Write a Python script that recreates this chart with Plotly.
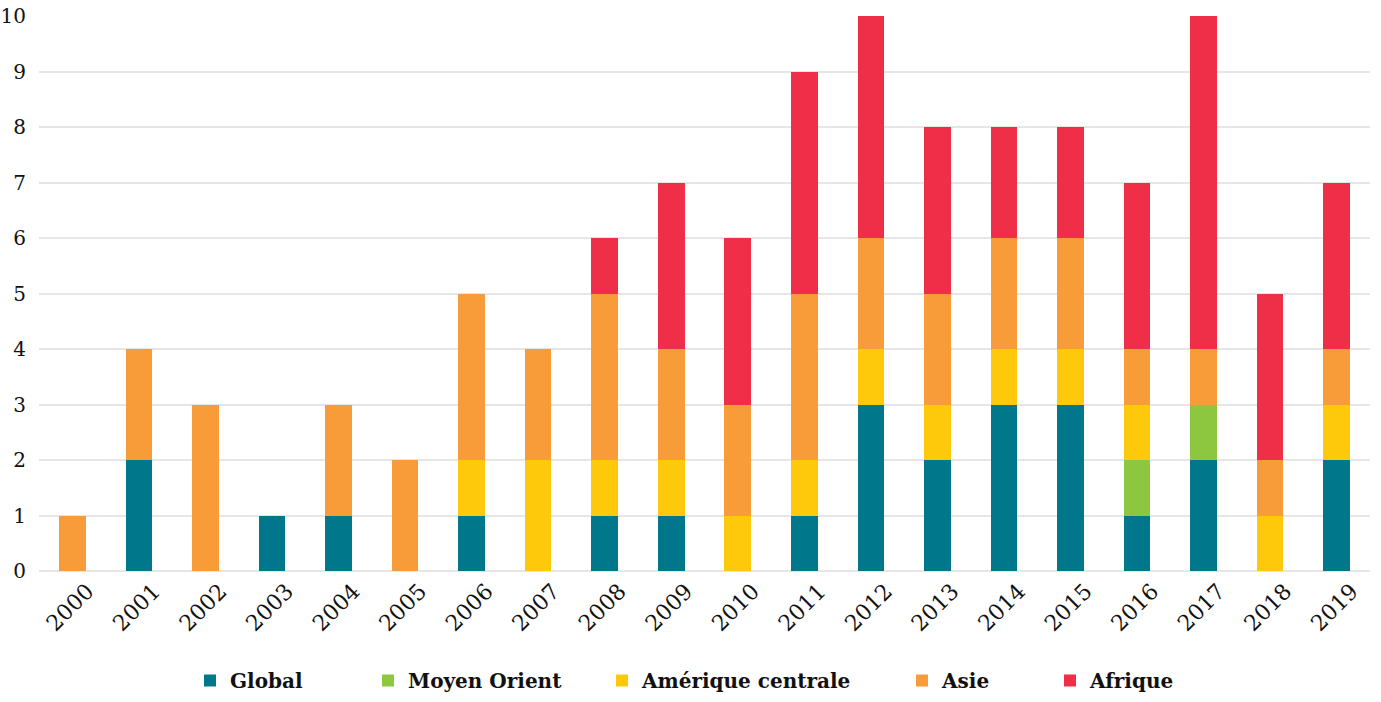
import plotly.graph_objects as go

years = [str(y) for y in range(2000, 2020)]
global_ = [0, 2, 0, 1, 1, 0, 1, 0, 1, 1, 0, 1, 3, 2, 3, 3, 1, 2, 0, 2]
moyen_orient = [0, 0, 0, 0, 0, 0, 0, 0, 0, 0, 0, 0, 0, 0, 0, 0, 1, 1, 0, 0]
amerique_centrale = [0, 0, 0, 0, 0, 0, 1, 2, 1, 1, 1, 1, 1, 1, 1, 1, 1, 0, 1, 1]
asie = [1, 2, 3, 0, 2, 2, 3, 2, 3, 2, 2, 3, 2, 2, 2, 2, 1, 1, 1, 1]
afrique = [0, 0, 0, 0, 0, 0, 0, 0, 1, 3, 3, 4, 4, 3, 2, 2, 3, 6, 3, 3]

series = [
    ("Global", global_, "#00778B"),
    ("Moyen Orient", moyen_orient, "#8DC63F"),
    ("Amérique centrale", amerique_centrale, "#FFC90B"),
    ("Asie", asie, "#F89C3A"),
    ("Afrique", afrique, "#EF2E48"),
]

font_family = "DejaVu Serif, Liberation Serif, serif"

# legend text start (px) for each entry
legend_text_px = [230, 408, 642, 942, 1090]

W, H = 1381, 702
ML, MT = 39, 16
plot_right = 1370
plot_bottom = 571
MR = W - plot_right
MB = H - plot_bottom
plot_w = W - ML - MR
plot_h = H - MT - MB

fig = go.Figure()
legend_layouts = {}
for i, (name, vals, color) in enumerate(series):
    lname = "legend" if i == 0 else f"legend{i+1}"
    fig.add_trace(go.Bar(
        x=years, y=vals, name=name,
        marker=dict(color=color, line=dict(width=0)),
        legend=lname,
        showlegend=True,
        hoverinfo="skip",
    ))
    box_left = legend_text_px[i] - 40
    legend_layouts[lname] = dict(
        orientation="h",
        x=(box_left - ML) / plot_w, xanchor="left",
        y=-(661 - plot_bottom) / plot_h, yanchor="top",
        font=dict(family=font_family, size=20, color="#111111", weight="bold"),
        itemwidth=30,
        bgcolor="rgba(0,0,0,0)",
        visible=True,
    )

fig.update_layout(
    showlegend=True,
    hovermode=False,
    barmode="stack",
    bargap=0.6,
    width=W, height=H,
    margin=dict(l=ML, r=MR, t=MT, b=MB, autoexpand=False),
    plot_bgcolor="white",
    paper_bgcolor="white",
    font=dict(family=font_family, size=20, color="#111111"),
    xaxis=dict(
        tickangle=-45,
        tickfont=dict(size=22),
        showgrid=False,
        ticks="",
        automargin=False,
        ticklabelstandoff=2,
        ticklabelshift=15,
    ),
    yaxis=dict(
        range=[0, 10],
        dtick=1,
        showgrid=True,
        gridcolor="#E6E6E6",
        gridwidth=2,
        zeroline=True,
        zerolinecolor="#E6E6E6",
        zerolinewidth=2,
        tickfont=dict(size=20),
        ticks="",
        automargin=False,
        ticklabelstandoff=12,
        ticklabeloverflow="allow",
    ),
    **legend_layouts,
)

fig.write_html(
    "out.html",
    config={"displayModeBar": False, "staticPlot": True},
    post_script="document.body.style.margin='0';",
)
